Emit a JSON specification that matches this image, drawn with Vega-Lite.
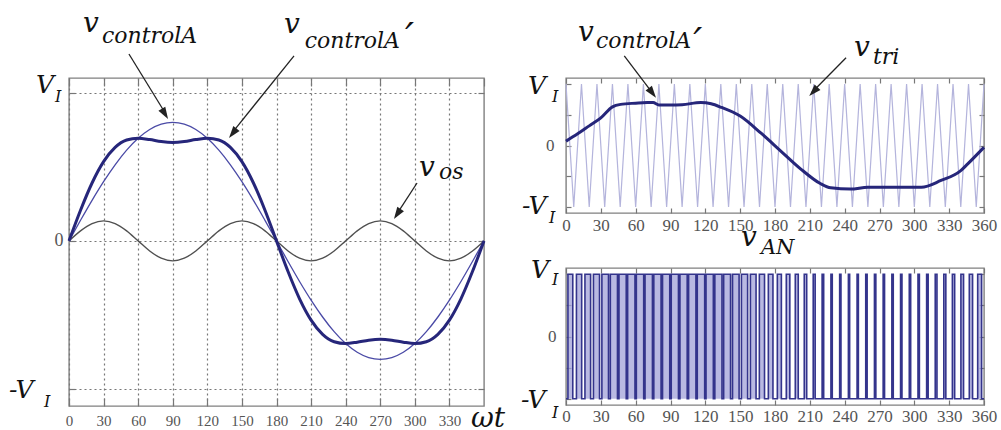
{
  "$schema": "https://vega.github.io/schema/vega-lite/v6.json",
  "autosize": {"type": "pad"},
  "padding": {"left": 8, "top": 8, "right": 2, "bottom": 2},
  "background": "white",
  "bounds": "flush",
  "spacing": 82,
  "config": {
    "view": {"stroke": "#808080", "strokeWidth": 1.4},
    "axis": {"domain": false, "labelFont": "Liberation Serif", "labelColor": "#555", "tickColor": "#777", "tickWidth": 1.2, "labelFlush": false, "labelOverlap": false}
  },
  "datasets": {
    "wave": [
      {"deg": 0, "a": 0, "os": 0, "ap": 0},
      {"deg": 10, "a": 0.139, "os": 0.068, "ap": 0.207},
      {"deg": 20, "a": 0.274, "os": 0.117, "ap": 0.391},
      {"deg": 30, "a": 0.4, "os": 0.135, "ap": 0.535},
      {"deg": 40, "a": 0.514, "os": 0.117, "ap": 0.631},
      {"deg": 50, "a": 0.613, "os": 0.068, "ap": 0.681},
      {"deg": 60, "a": 0.693, "os": 0, "ap": 0.693},
      {"deg": 70, "a": 0.752, "os": -0.068, "ap": 0.684},
      {"deg": 80, "a": 0.788, "os": -0.117, "ap": 0.671},
      {"deg": 90, "a": 0.8, "os": -0.135, "ap": 0.665},
      {"deg": 100, "a": 0.788, "os": -0.117, "ap": 0.671},
      {"deg": 110, "a": 0.752, "os": -0.068, "ap": 0.684},
      {"deg": 120, "a": 0.693, "os": 0, "ap": 0.693},
      {"deg": 130, "a": 0.613, "os": 0.068, "ap": 0.681},
      {"deg": 140, "a": 0.514, "os": 0.117, "ap": 0.631},
      {"deg": 150, "a": 0.4, "os": 0.135, "ap": 0.535},
      {"deg": 160, "a": 0.274, "os": 0.117, "ap": 0.391},
      {"deg": 170, "a": 0.139, "os": 0.068, "ap": 0.207},
      {"deg": 180, "a": 0, "os": 0, "ap": 0},
      {"deg": 190, "a": -0.139, "os": -0.068, "ap": -0.207},
      {"deg": 200, "a": -0.274, "os": -0.117, "ap": -0.391},
      {"deg": 210, "a": -0.4, "os": -0.135, "ap": -0.535},
      {"deg": 220, "a": -0.514, "os": -0.117, "ap": -0.631},
      {"deg": 230, "a": -0.613, "os": -0.068, "ap": -0.681},
      {"deg": 240, "a": -0.693, "os": 0, "ap": -0.693},
      {"deg": 250, "a": -0.752, "os": 0.068, "ap": -0.684},
      {"deg": 260, "a": -0.788, "os": 0.117, "ap": -0.671},
      {"deg": 270, "a": -0.8, "os": 0.135, "ap": -0.665},
      {"deg": 280, "a": -0.788, "os": 0.117, "ap": -0.671},
      {"deg": 290, "a": -0.752, "os": 0.068, "ap": -0.684},
      {"deg": 300, "a": -0.693, "os": 0, "ap": -0.693},
      {"deg": 310, "a": -0.613, "os": -0.068, "ap": -0.681},
      {"deg": 320, "a": -0.514, "os": -0.117, "ap": -0.631},
      {"deg": 330, "a": -0.4, "os": -0.135, "ap": -0.535},
      {"deg": 340, "a": -0.274, "os": -0.117, "ap": -0.391},
      {"deg": 350, "a": -0.139, "os": -0.068, "ap": -0.207},
      {"deg": 360, "a": 0, "os": 0, "ap": 0}
    ],
    "ctrl": [
      {"deg": 0, "v": 0.07}, {"deg": 10, "v": 0.19}, {"deg": 20, "v": 0.32}, {"deg": 30, "v": 0.45},
      {"deg": 40, "v": 0.63}, {"deg": 47, "v": 0.67}, {"deg": 60, "v": 0.69}, {"deg": 70, "v": 0.7},
      {"deg": 75, "v": 0.7}, {"deg": 80, "v": 0.66}, {"deg": 90, "v": 0.66}, {"deg": 100, "v": 0.665},
      {"deg": 116, "v": 0.7}, {"deg": 125, "v": 0.68}, {"deg": 134, "v": 0.62}, {"deg": 150, "v": 0.48},
      {"deg": 168, "v": 0.2}, {"deg": 185, "v": -0.09}, {"deg": 202, "v": -0.38}, {"deg": 219, "v": -0.62},
      {"deg": 228, "v": -0.69}, {"deg": 245, "v": -0.71}, {"deg": 260, "v": -0.68}, {"deg": 280, "v": -0.68},
      {"deg": 306, "v": -0.68}, {"deg": 323, "v": -0.57}, {"deg": 340, "v": -0.41}, {"deg": 346, "v": -0.3},
      {"deg": 360, "v": -0.03}
    ],
    "tri": [
      {"deg": 0, "v": 1}, {"deg": 6.67, "v": -1}, {"deg": 13.33, "v": 1}, {"deg": 20, "v": -1},
      {"deg": 26.67, "v": 1}, {"deg": 33.33, "v": -1}, {"deg": 40, "v": 1}, {"deg": 46.67, "v": -1},
      {"deg": 53.33, "v": 1}, {"deg": 60, "v": -1}, {"deg": 66.67, "v": 1}, {"deg": 73.33, "v": -1},
      {"deg": 80, "v": 1}, {"deg": 86.67, "v": -1}, {"deg": 93.33, "v": 1}, {"deg": 100, "v": -1},
      {"deg": 106.67, "v": 1}, {"deg": 113.33, "v": -1}, {"deg": 120, "v": 1}, {"deg": 126.67, "v": -1},
      {"deg": 133.33, "v": 1}, {"deg": 140, "v": -1}, {"deg": 146.67, "v": 1}, {"deg": 153.33, "v": -1},
      {"deg": 160, "v": 1}, {"deg": 166.67, "v": -1}, {"deg": 173.33, "v": 1}, {"deg": 180, "v": -1},
      {"deg": 186.67, "v": 1}, {"deg": 193.33, "v": -1}, {"deg": 200, "v": 1}, {"deg": 206.67, "v": -1},
      {"deg": 213.33, "v": 1}, {"deg": 220, "v": -1}, {"deg": 226.67, "v": 1}, {"deg": 233.33, "v": -1},
      {"deg": 240, "v": 1}, {"deg": 246.67, "v": -1}, {"deg": 253.33, "v": 1}, {"deg": 260, "v": -1},
      {"deg": 266.67, "v": 1}, {"deg": 273.33, "v": -1}, {"deg": 280, "v": 1}, {"deg": 286.67, "v": -1},
      {"deg": 293.33, "v": 1}, {"deg": 300, "v": -1}, {"deg": 306.67, "v": 1}, {"deg": 313.33, "v": -1},
      {"deg": 320, "v": 1}, {"deg": 326.67, "v": -1}, {"deg": 333.33, "v": 1}, {"deg": 340, "v": -1},
      {"deg": 346.67, "v": 1}, {"deg": 353.33, "v": -1}, {"deg": 360, "v": 1}
    ],
    "pwm": [
      {"deg": 0, "v": -1}, {"deg": 1.66, "v": 1}, {"deg": 5.84, "v": -1}, {"deg": 8.99, "v": 1}, {"deg": 13.51, "v": -1},
      {"deg": 16.31, "v": 1}, {"deg": 21.19, "v": -1}, {"deg": 23.63, "v": 1}, {"deg": 28.88, "v": -1},
      {"deg": 30.9, "v": 1}, {"deg": 36.6, "v": -1}, {"deg": 38.18, "v": 1}, {"deg": 44.33, "v": -1},
      {"deg": 45.62, "v": 1}, {"deg": 51.88, "v": -1}, {"deg": 53.09, "v": 1}, {"deg": 59.41, "v": -1},
      {"deg": 60.58, "v": 1}, {"deg": 66.92, "v": -1}, {"deg": 68.06, "v": 1}, {"deg": 74.44, "v": -1},
      {"deg": 75.62, "v": 1}, {"deg": 81.88, "v": -1}, {"deg": 83.14, "v": 1}, {"deg": 89.36, "v": -1},
      {"deg": 90.64, "v": 1}, {"deg": 96.86, "v": -1}, {"deg": 98.12, "v": 1}, {"deg": 104.38, "v": -1},
      {"deg": 105.59, "v": 1}, {"deg": 111.91, "v": -1}, {"deg": 113.06, "v": 1}, {"deg": 119.44, "v": -1},
      {"deg": 120.6, "v": 1}, {"deg": 126.9, "v": -1}, {"deg": 128.18, "v": 1}, {"deg": 134.33, "v": -1},
      {"deg": 135.79, "v": 1}, {"deg": 141.71, "v": -1}, {"deg": 143.42, "v": 1}, {"deg": 149.08, "v": -1},
      {"deg": 151.07, "v": 1}, {"deg": 156.43, "v": -1}, {"deg": 158.81, "v": 1}, {"deg": 163.69, "v": -1},
      {"deg": 166.52, "v": 1}, {"deg": 170.98, "v": -1}, {"deg": 174.26, "v": 1}, {"deg": 178.24, "v": -1},
      {"deg": 182.01, "v": 1}, {"deg": 185.49, "v": -1}, {"deg": 189.73, "v": 1}, {"deg": 192.77, "v": -1},
      {"deg": 197.48, "v": 1}, {"deg": 200.03, "v": -1}, {"deg": 205.2, "v": 1}, {"deg": 207.3, "v": -1},
      {"deg": 212.91, "v": 1}, {"deg": 214.59, "v": -1}, {"deg": 220.58, "v": 1}, {"deg": 221.93, "v": -1},
      {"deg": 228.17, "v": 1}, {"deg": 229.33, "v": -1}, {"deg": 235.69, "v": 1}, {"deg": 236.81, "v": -1},
      {"deg": 243.21, "v": 1}, {"deg": 244.29, "v": -1}, {"deg": 250.69, "v": 1}, {"deg": 251.81, "v": -1},
      {"deg": 258.15, "v": 1}, {"deg": 259.35, "v": -1}, {"deg": 265.65, "v": 1}, {"deg": 266.85, "v": -1},
      {"deg": 273.15, "v": 1}, {"deg": 274.35, "v": -1}, {"deg": 280.65, "v": 1}, {"deg": 281.85, "v": -1},
      {"deg": 288.15, "v": 1}, {"deg": 289.35, "v": -1}, {"deg": 295.65, "v": 1}, {"deg": 296.85, "v": -1},
      {"deg": 303.15, "v": 1}, {"deg": 304.35, "v": -1}, {"deg": 310.59, "v": 1}, {"deg": 311.91, "v": -1},
      {"deg": 318, "v": 1}, {"deg": 319.5, "v": -1}, {"deg": 325.37, "v": 1}, {"deg": 327.13, "v": -1},
      {"deg": 332.76, "v": 1}, {"deg": 334.74, "v": -1}, {"deg": 340.11, "v": 1}, {"deg": 342.39, "v": -1},
      {"deg": 347.34, "v": 1}, {"deg": 350.16, "v": -1}, {"deg": 354.56, "v": 1}, {"deg": 357.94, "v": -1},
      {"deg": 360, "v": -1}
    ],
    "leftBig": [
      {"deg": 12.1, "val": 1.414, "t": "v"},
      {"deg": 186.5, "val": 1.404, "t": "v"},
      {"deg": 303.6, "val": 0.438, "t": "v"},
      {"deg": 348.7, "val": -1.257, "t": "ωt"}
    ],
    "leftPrime": [
      {"deg": 291.5, "val": 1.28, "t": "′"}
    ],
    "leftSub": [
      {"deg": 28.6, "val": 1.336, "t": "controlA"},
      {"deg": 204.5, "val": 1.305, "t": "controlA"},
      {"deg": 321, "val": 0.418, "t": "os"}
    ],
    "leftV": [
      {"deg": -28.6, "val": 0.999, "t": "V"},
      {"deg": -52.1, "val": -1.061, "t": "-V"}
    ],
    "leftI": [
      {"deg": -12.1, "val": 0.938, "t": "I"},
      {"deg": -21.7, "val": -1.121, "t": "I"}
    ],
    "leftArrows": [
      {"fromDeg": 52.0, "fromVal": 1.262, "toDeg": 84.5, "toVal": 0.85},
      {"fromDeg": 195.2, "fromVal": 1.249, "toDeg": 141.5, "toVal": 0.73},
      {"fromDeg": 301.9, "fromVal": 0.391, "toDeg": 283.5, "toVal": 0.17}
    ],
    "trBig": [
      {"deg": 10.3, "val": 1.703, "t": "v"},
      {"deg": 248, "val": 1.459, "t": "v"}
    ],
    "trPrime": [
      {"deg": 109.5, "val": 1.46, "t": "′"}
    ],
    "trSub": [
      {"deg": 25.8, "val": 1.594, "t": "controlA"},
      {"deg": 264.4, "val": 1.328, "t": "tri"}
    ],
    "trV": [
      {"deg": -32.7, "val": 0.839, "t": "V"},
      {"deg": -37.9, "val": -1.116, "t": "-V"}
    ],
    "trI": [
      {"deg": -12.1, "val": 0.709, "t": "I"},
      {"deg": -14.6, "val": -1.263, "t": "I"}
    ],
    "trArrows": [
      {"fromDeg": 50.2, "fromVal": 1.459, "toDeg": 75.5, "toVal": 0.83},
      {"fromDeg": 241.2, "fromVal": 1.431, "toDeg": 211.5, "toVal": 0.86}
    ],
    "brBig": [{"deg": 150.7, "val": 1.45, "t": "v"}],
    "brSub": [{"deg": 167.9, "val": 1.32, "t": "AN"}],
    "brV": [
      {"deg": -30.1, "val": 0.939, "t": "V"},
      {"deg": -38.8, "val": -1.148, "t": "-V"}
    ],
    "brI": [
      {"deg": -12.1, "val": 0.827, "t": "I"},
      {"deg": -12.1, "val": -1.309, "t": "I"}
    ]
  },
  "hconcat": [
    {
      "width": 415,
      "height": 328,
      "resolve": {"axis": {"x": "independent", "y": "independent"}},
      "layer": [
        {
          "data": {"name": "wave"},
          "mark": {"type": "line", "color": "#505050", "strokeWidth": 1.4, "interpolate": "monotone"},
          "encoding": {
            "x": {"field": "deg", "type": "quantitative", "scale": {"domain": [0, 360], "nice": false, "zero": false},
              "axis": {"orient": "bottom", "title": null, "values": [0, 30, 60, 90, 120, 150, 180, 210, 240, 270, 300, 330], "grid": true, "gridDash": [2, 3], "gridColor": "#777", "gridWidth": 1.2, "tickSize": -8, "labelPadding": 15, "labelFontSize": 15}},
            "y": {"field": "os", "type": "quantitative", "scale": {"domain": [-1.115, 1.1], "nice": false, "zero": false},
              "axis": {"orient": "left", "title": null, "values": [-1, 0, 1], "grid": true, "gridDash": [2, 3], "gridColor": "#777", "gridWidth": 1.2, "tickSize": -6, "labelPadding": 12, "labelFontSize": 18, "labelExpr": "datum.value === 0 ? '0' : ''"}}
          }
        },
        {
          "data": {"name": "wave"},
          "mark": {"type": "line", "color": "#4a4aa6", "strokeWidth": 1.3, "interpolate": "monotone"},
          "encoding": {
            "x": {"field": "deg", "type": "quantitative", "scale": {"domain": [0, 360], "nice": false, "zero": false},
              "axis": {"orient": "top", "title": null, "values": [0, 30, 60, 90, 120, 150, 180, 210, 240, 270, 300, 330, 360], "labels": false, "grid": false, "tickSize": -8}},
            "y": {"field": "a", "type": "quantitative", "scale": {"domain": [-1.115, 1.1], "nice": false, "zero": false},
              "axis": {"orient": "right", "title": null, "values": [-1, 0, 1], "labels": false, "grid": false, "tickSize": -6}}
          }
        },
        {
          "data": {"name": "wave"},
          "mark": {"type": "line", "color": "#26267a", "strokeWidth": 3, "interpolate": "monotone"},
          "encoding": {
            "x": {"field": "deg", "type": "quantitative", "scale": {"domain": [0, 360], "nice": false, "zero": false}, "axis": null},
            "y": {"field": "ap", "type": "quantitative", "scale": {"domain": [-1.115, 1.1], "nice": false, "zero": false}, "axis": null}
          }
        },
        {
          "data": {"name": "leftBig"},
          "mark": {"type": "text", "font": "DejaVu Serif", "fontStyle": "italic", "fontSize": 28, "align": "left", "baseline": "alphabetic", "color": "#111"},
          "encoding": {
            "x": {"field": "deg", "type": "quantitative", "scale": {"domain": [0, 360], "nice": false, "zero": false}, "axis": null},
            "y": {"field": "val", "type": "quantitative", "scale": {"domain": [-1.115, 1.1], "nice": false, "zero": false}, "axis": null},
            "text": {"field": "t"}
          }
        },
        {
          "data": {"name": "leftPrime"},
          "mark": {"type": "text", "font": "DejaVu Serif", "fontStyle": "italic", "fontSize": 40, "align": "left", "baseline": "alphabetic", "color": "#111"},
          "encoding": {
            "x": {"field": "deg", "type": "quantitative", "scale": {"domain": [0, 360], "nice": false, "zero": false}, "axis": null},
            "y": {"field": "val", "type": "quantitative", "scale": {"domain": [-1.115, 1.1], "nice": false, "zero": false}, "axis": null},
            "text": {"field": "t"}
          }
        },
        {
          "data": {"name": "leftSub"},
          "mark": {"type": "text", "font": "DejaVu Serif", "fontStyle": "italic", "fontSize": 22, "align": "left", "baseline": "alphabetic", "color": "#111"},
          "encoding": {
            "x": {"field": "deg", "type": "quantitative", "scale": {"domain": [0, 360], "nice": false, "zero": false}, "axis": null},
            "y": {"field": "val", "type": "quantitative", "scale": {"domain": [-1.115, 1.1], "nice": false, "zero": false}, "axis": null},
            "text": {"field": "t"}
          }
        },
        {
          "data": {"name": "leftV"},
          "mark": {"type": "text", "font": "DejaVu Serif", "fontStyle": "italic", "fontSize": 25, "align": "left", "baseline": "alphabetic", "color": "#111"},
          "encoding": {
            "x": {"field": "deg", "type": "quantitative", "scale": {"domain": [0, 360], "nice": false, "zero": false}, "axis": null},
            "y": {"field": "val", "type": "quantitative", "scale": {"domain": [-1.115, 1.1], "nice": false, "zero": false}, "axis": null},
            "text": {"field": "t"}
          }
        },
        {
          "data": {"name": "leftI"},
          "mark": {"type": "text", "font": "DejaVu Serif", "fontStyle": "italic", "fontSize": 16, "align": "left", "baseline": "alphabetic", "color": "#111"},
          "encoding": {
            "x": {"field": "deg", "type": "quantitative", "scale": {"domain": [0, 360], "nice": false, "zero": false}, "axis": null},
            "y": {"field": "val", "type": "quantitative", "scale": {"domain": [-1.115, 1.1], "nice": false, "zero": false}, "axis": null},
            "text": {"field": "t"}
          }
        },
        {
          "data": {"name": "leftArrows"},
          "mark": {"type": "rule", "color": "#222", "strokeWidth": 1.3},
          "encoding": {
            "x": {"field": "fromDeg", "type": "quantitative", "scale": {"domain": [0, 360], "nice": false, "zero": false}, "axis": null},
            "y": {"field": "fromVal", "type": "quantitative", "scale": {"domain": [-1.115, 1.1], "nice": false, "zero": false}, "axis": null},
            "x2": {"field": "toDeg"},
            "y2": {"field": "toVal"}
          }
        },
        {
          "data": {"values": [{"deg": 85.9, "val": 0.823}]},
          "mark": {"type": "point", "shape": "M0,0L1,3L-1,3Z", "size": 64, "filled": true, "color": "#222", "opacity": 1, "angle": 149},
          "encoding": {
            "x": {"field": "deg", "type": "quantitative", "scale": {"domain": [0, 360], "nice": false, "zero": false}, "axis": null},
            "y": {"field": "val", "type": "quantitative", "scale": {"domain": [-1.115, 1.1], "nice": false, "zero": false}, "axis": null}
          }
        },
        {
          "data": {"values": [{"deg": 138.8, "val": 0.695}]},
          "mark": {"type": "point", "shape": "M0,0L1,3L-1,3Z", "size": 64, "filled": true, "color": "#222", "opacity": 1, "angle": 218.4},
          "encoding": {
            "x": {"field": "deg", "type": "quantitative", "scale": {"domain": [0, 360], "nice": false, "zero": false}, "axis": null},
            "y": {"field": "val", "type": "quantitative", "scale": {"domain": [-1.115, 1.1], "nice": false, "zero": false}, "axis": null}
          }
        },
        {
          "data": {"values": [{"deg": 281.9, "val": 0.148}]},
          "mark": {"type": "point", "shape": "M0,0L1,3L-1,3Z", "size": 64, "filled": true, "color": "#222", "opacity": 1, "angle": 213.7},
          "encoding": {
            "x": {"field": "deg", "type": "quantitative", "scale": {"domain": [0, 360], "nice": false, "zero": false}, "axis": null},
            "y": {"field": "val", "type": "quantitative", "scale": {"domain": [-1.115, 1.1], "nice": false, "zero": false}, "axis": null}
          }
        }
      ]
    },
    {
      "vconcat": [
        {
          "width": 418,
          "height": 135,
          "resolve": {"axis": {"x": "independent", "y": "independent"}},
          "layer": [
            {
              "data": {"name": "tri"},
              "mark": {"type": "line", "color": "#b4b4dc", "strokeWidth": 1.2},
              "encoding": {
                "x": {"field": "deg", "type": "quantitative", "scale": {"domain": [0, 360], "nice": false, "zero": false},
                  "axis": {"orient": "bottom", "title": null, "values": [0, 30, 60, 90, 120, 150, 180, 210, 240, 270, 300, 330, 360], "grid": false, "tickSize": -5, "labelPadding": 9, "labelFontSize": 17}},
                "y": {"field": "v", "type": "quantitative", "scale": {"domain": [-1.1, 1.1], "nice": false, "zero": false},
                  "axis": {"orient": "left", "title": null, "values": [-1, -0.5, 0, 0.5, 1], "grid": false, "tickSize": -5, "labelPadding": 17, "labelFontSize": 17, "labelExpr": "datum.value === 0 ? '0' : ''"}}
              }
            },
            {
              "data": {"name": "ctrl"},
              "mark": {"type": "line", "color": "#26267a", "strokeWidth": 3, "interpolate": "monotone"},
              "encoding": {
                "x": {"field": "deg", "type": "quantitative", "scale": {"domain": [0, 360], "nice": false, "zero": false},
                  "axis": {"orient": "top", "title": null, "values": [0, 30, 60, 90, 120, 150, 180, 210, 240, 270, 300, 330, 360], "labels": false, "grid": false, "tickSize": -5}},
                "y": {"field": "v", "type": "quantitative", "scale": {"domain": [-1.1, 1.1], "nice": false, "zero": false},
                  "axis": {"orient": "right", "title": null, "values": [-1, -0.5, 0, 0.5, 1], "labels": false, "grid": false, "tickSize": -5}}
              }
            },
            {
              "data": {"name": "trBig"},
              "mark": {"type": "text", "font": "DejaVu Serif", "fontStyle": "italic", "fontSize": 28, "align": "left", "baseline": "alphabetic", "color": "#111"},
              "encoding": {
                "x": {"field": "deg", "type": "quantitative", "scale": {"domain": [0, 360], "nice": false, "zero": false}, "axis": null},
                "y": {"field": "val", "type": "quantitative", "scale": {"domain": [-1.1, 1.1], "nice": false, "zero": false}, "axis": null},
                "text": {"field": "t"}
              }
            },
            {
              "data": {"name": "trPrime"},
              "mark": {"type": "text", "font": "DejaVu Serif", "fontStyle": "italic", "fontSize": 40, "align": "left", "baseline": "alphabetic", "color": "#111"},
              "encoding": {
                "x": {"field": "deg", "type": "quantitative", "scale": {"domain": [0, 360], "nice": false, "zero": false}, "axis": null},
                "y": {"field": "val", "type": "quantitative", "scale": {"domain": [-1.1, 1.1], "nice": false, "zero": false}, "axis": null},
                "text": {"field": "t"}
              }
            },
            {
              "data": {"name": "trSub"},
              "mark": {"type": "text", "font": "DejaVu Serif", "fontStyle": "italic", "fontSize": 22, "align": "left", "baseline": "alphabetic", "color": "#111"},
              "encoding": {
                "x": {"field": "deg", "type": "quantitative", "scale": {"domain": [0, 360], "nice": false, "zero": false}, "axis": null},
                "y": {"field": "val", "type": "quantitative", "scale": {"domain": [-1.1, 1.1], "nice": false, "zero": false}, "axis": null},
                "text": {"field": "t"}
              }
            },
            {
              "data": {"name": "trV"},
              "mark": {"type": "text", "font": "DejaVu Serif", "fontStyle": "italic", "fontSize": 25, "align": "left", "baseline": "alphabetic", "color": "#111"},
              "encoding": {
                "x": {"field": "deg", "type": "quantitative", "scale": {"domain": [0, 360], "nice": false, "zero": false}, "axis": null},
                "y": {"field": "val", "type": "quantitative", "scale": {"domain": [-1.1, 1.1], "nice": false, "zero": false}, "axis": null},
                "text": {"field": "t"}
              }
            },
            {
              "data": {"name": "trI"},
              "mark": {"type": "text", "font": "DejaVu Serif", "fontStyle": "italic", "fontSize": 16, "align": "left", "baseline": "alphabetic", "color": "#111"},
              "encoding": {
                "x": {"field": "deg", "type": "quantitative", "scale": {"domain": [0, 360], "nice": false, "zero": false}, "axis": null},
                "y": {"field": "val", "type": "quantitative", "scale": {"domain": [-1.1, 1.1], "nice": false, "zero": false}, "axis": null},
                "text": {"field": "t"}
              }
            },
            {
              "data": {"name": "trArrows"},
              "mark": {"type": "rule", "color": "#222", "strokeWidth": 1.3},
              "encoding": {
                "x": {"field": "fromDeg", "type": "quantitative", "scale": {"domain": [0, 360], "nice": false, "zero": false}, "axis": null},
                "y": {"field": "fromVal", "type": "quantitative", "scale": {"domain": [-1.1, 1.1], "nice": false, "zero": false}, "axis": null},
                "x2": {"field": "toDeg"},
                "y2": {"field": "toVal"}
              }
            },
            {
              "data": {"values": [{"deg": 77.5, "val": 0.779}]},
              "mark": {"type": "point", "shape": "M0,0L1,3L-1,3Z", "size": 64, "filled": true, "color": "#222", "opacity": 1, "angle": 142.8},
              "encoding": {
                "x": {"field": "deg", "type": "quantitative", "scale": {"domain": [0, 360], "nice": false, "zero": false}, "axis": null},
                "y": {"field": "val", "type": "quantitative", "scale": {"domain": [-1.1, 1.1], "nice": false, "zero": false}, "axis": null}
              }
            },
            {
              "data": {"values": [{"deg": 209.5, "val": 0.807}]},
              "mark": {"type": "point", "shape": "M0,0L1,3L-1,3Z", "size": 64, "filled": true, "color": "#222", "opacity": 1, "angle": 223.8},
              "encoding": {
                "x": {"field": "deg", "type": "quantitative", "scale": {"domain": [0, 360], "nice": false, "zero": false}, "axis": null},
                "y": {"field": "val", "type": "quantitative", "scale": {"domain": [-1.1, 1.1], "nice": false, "zero": false}, "axis": null}
              }
            }
          ]
        },
        {
          "width": 418,
          "height": 137,
          "resolve": {"axis": {"x": "independent", "y": "independent"}},
          "layer": [
            {
              "data": {"name": "pwm"},
              "mark": {"type": "area", "color": "#a2a2d8", "opacity": 0.75, "interpolate": "step-after"},
              "encoding": {
                "x": {"field": "deg", "type": "quantitative", "scale": {"domain": [0, 360], "nice": false, "zero": false},
                  "axis": {"orient": "bottom", "title": null, "values": [0, 30, 60, 90, 120, 150, 180, 210, 240, 270, 300, 330, 360], "grid": false, "tickSize": -5, "labelPadding": 8, "labelFontSize": 17}},
                "y": {"field": "v", "type": "quantitative", "scale": {"domain": [-1.1, 1.1], "nice": false, "zero": false},
                  "axis": {"orient": "left", "title": null, "values": [-1, -0.5, 0, 0.5, 1], "grid": false, "tickSize": -5, "labelPadding": 15, "labelFontSize": 17, "labelExpr": "datum.value === 0 ? '0' : ''"}},
                "y2": {"datum": -1}
              }
            },
            {
              "data": {"name": "pwm"},
              "mark": {"type": "line", "color": "#34348c", "strokeWidth": 1.6, "interpolate": "step-after"},
              "encoding": {
                "x": {"field": "deg", "type": "quantitative", "scale": {"domain": [0, 360], "nice": false, "zero": false},
                  "axis": {"orient": "top", "title": null, "values": [0, 30, 60, 90, 120, 150, 180, 210, 240, 270, 300, 330, 360], "labels": false, "grid": false, "tickSize": -5}},
                "y": {"field": "v", "type": "quantitative", "scale": {"domain": [-1.1, 1.1], "nice": false, "zero": false},
                  "axis": {"orient": "right", "title": null, "values": [-1, -0.5, 0, 0.5, 1], "labels": false, "grid": false, "tickSize": -5}}
              }
            },
            {
              "data": {"name": "brBig"},
              "mark": {"type": "text", "font": "DejaVu Serif", "fontStyle": "italic", "fontSize": 28, "align": "left", "baseline": "alphabetic", "color": "#111"},
              "encoding": {
                "x": {"field": "deg", "type": "quantitative", "scale": {"domain": [0, 360], "nice": false, "zero": false}, "axis": null},
                "y": {"field": "val", "type": "quantitative", "scale": {"domain": [-1.1, 1.1], "nice": false, "zero": false}, "axis": null},
                "text": {"field": "t"}
              }
            },
            {
              "data": {"name": "brSub"},
              "mark": {"type": "text", "font": "DejaVu Serif", "fontStyle": "italic", "fontSize": 21, "align": "left", "baseline": "alphabetic", "color": "#111"},
              "encoding": {
                "x": {"field": "deg", "type": "quantitative", "scale": {"domain": [0, 360], "nice": false, "zero": false}, "axis": null},
                "y": {"field": "val", "type": "quantitative", "scale": {"domain": [-1.1, 1.1], "nice": false, "zero": false}, "axis": null},
                "text": {"field": "t"}
              }
            },
            {
              "data": {"name": "brV"},
              "mark": {"type": "text", "font": "DejaVu Serif", "fontStyle": "italic", "fontSize": 25, "align": "left", "baseline": "alphabetic", "color": "#111"},
              "encoding": {
                "x": {"field": "deg", "type": "quantitative", "scale": {"domain": [0, 360], "nice": false, "zero": false}, "axis": null},
                "y": {"field": "val", "type": "quantitative", "scale": {"domain": [-1.1, 1.1], "nice": false, "zero": false}, "axis": null},
                "text": {"field": "t"}
              }
            },
            {
              "data": {"name": "brI"},
              "mark": {"type": "text", "font": "DejaVu Serif", "fontStyle": "italic", "fontSize": 16, "align": "left", "baseline": "alphabetic", "color": "#111"},
              "encoding": {
                "x": {"field": "deg", "type": "quantitative", "scale": {"domain": [0, 360], "nice": false, "zero": false}, "axis": null},
                "y": {"field": "val", "type": "quantitative", "scale": {"domain": [-1.1, 1.1], "nice": false, "zero": false}, "axis": null},
                "text": {"field": "t"}
              }
            }
          ]
        }
      ],
      "spacing": 55,
      "bounds": "flush"
    }
  ]
}
